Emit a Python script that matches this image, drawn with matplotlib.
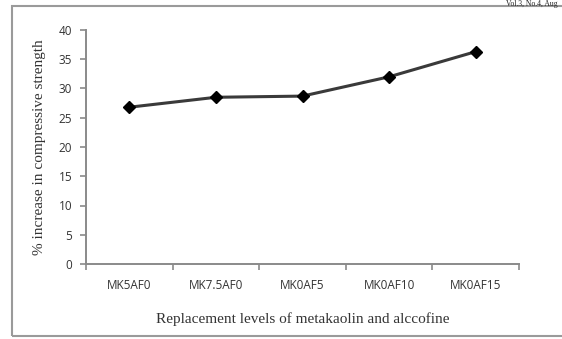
import matplotlib.pyplot as plt
from matplotlib.patches import Rectangle

# data
categories = ["MK5AF0", "MK7.5AF0", "MK0AF5", "MK0AF10", "MK0AF15"]
strength_increase = [26.8, 28.5, 28.7, 32.0, 36.3]
y_ticks = [0, 5, 10, 15, 20, 25, 30, 35, 40]

W, H = 562, 339
fig = plt.figure(figsize=(W / 100, H / 100), dpi=100)
fig.patch.set_facecolor("white")

# outer frame (cut off on the right like the scan)
frame = Rectangle((12 / W, 1 - 336 / H), 560 / W, 330 / H, transform=fig.transFigure,
                  fill=False, edgecolor="#9a9a9a", linewidth=1.5)
fig.add_artist(frame)

# running header at the top right
fig.text(558 / W, 1 - 0.5 / H, "Vol.3, No.4, Aug", fontsize=5.5, family="Liberation Serif",
         color="#222222", ha="right", va="top")

ax = fig.add_axes([86 / W, 1 - 264 / H, (519 - 86) / W, (264 - 30) / H])
x = list(range(len(categories)))
ax.plot(x, strength_increase, "-", color="#3a3a3a", linewidth=2.2,
        marker="D", markersize=6.5, markerfacecolor="black", markeredgecolor="black")

ax.set_xlim(-0.5, len(categories) - 0.5)
ax.set_ylim(0, 40)
ax.set_yticks(y_ticks)
ax.set_xticks(x)
ax.set_xticklabels(categories)
ax.set_xticks([i - 0.5 for i in range(len(categories) + 1)], minor=True)
ax.tick_params(axis="x", which="major", length=0, pad=11)
ax.tick_params(axis="x", which="minor", length=4, color="#8a8a8a", width=1.2)
ax.tick_params(axis="y", length=4, color="#8a8a8a", width=1.2, pad=6)
for lab in ax.get_xticklabels() + ax.get_yticklabels():
    lab.set_family("Open Sans")
    lab.set_fontsize(8.5)
    lab.set_color("#333333")

ax.spines["top"].set_visible(False)
ax.spines["right"].set_visible(False)
ax.spines["left"].set_color("#8a8a8a")
ax.spines["bottom"].set_color("#8a8a8a")
ax.spines["left"].set_linewidth(1.4)
ax.spines["bottom"].set_linewidth(1.4)

ax.set_xlabel("Replacement levels of metakaolin and alccofine", family="Liberation Serif",
              fontsize=11, color="#333333", labelpad=14)
ax.set_ylabel("% increase in compressive strength", family="Liberation Serif",
              fontsize=11, color="#333333", labelpad=9)

fig.savefig("out.png", dpi=100)
